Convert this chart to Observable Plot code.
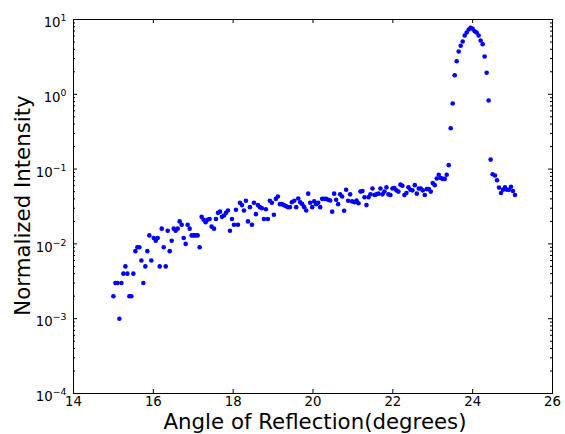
<!DOCTYPE html>
<html>
<head>
<meta charset="utf-8">
<script src="https://cdn.jsdelivr.net/npm/d3@7"></script>
<script src="https://cdn.jsdelivr.net/npm/@observablehq/plot@0.6"></script>
<style>
  html, body { margin: 0; padding: 0; background: white; }
  #chart svg { display: block; }
</style>
</head>
<body>
<div id="chart"></div>
<script>
const angles = [
  15.00, 15.05, 15.10, 15.15, 15.20, 15.25, 15.30, 15.35, 15.40, 15.45,
  15.50, 15.55, 15.60, 15.65, 15.70, 15.75, 15.80, 15.85, 15.90, 15.95,
  16.01, 16.06, 16.11, 16.16, 16.21, 16.26, 16.31, 16.36, 16.41, 16.46,
  16.51, 16.56, 16.61, 16.66, 16.71, 16.76, 16.81, 16.86, 16.91, 16.96,
  17.01, 17.06, 17.11, 17.16, 17.21, 17.26, 17.31, 17.36, 17.41, 17.46,
  17.52, 17.57, 17.62, 17.67, 17.72, 17.77, 17.82, 17.87, 17.92, 17.97,
  18.02, 18.07, 18.12, 18.17, 18.22, 18.27, 18.32, 18.37, 18.42, 18.47,
  18.52, 18.57, 18.62, 18.67, 18.72, 18.77, 18.82, 18.87, 18.92, 18.97,
  19.02, 19.07, 19.12, 19.17, 19.22, 19.27, 19.32, 19.37, 19.42, 19.47,
  19.53, 19.58, 19.63, 19.68, 19.73, 19.78, 19.83, 19.88, 19.93, 19.98,
  20.03, 20.08, 20.13, 20.18, 20.23, 20.28, 20.33, 20.38, 20.43, 20.48,
  20.53, 20.58, 20.63, 20.68, 20.73, 20.78, 20.83, 20.88, 20.93, 20.98,
  21.04, 21.09, 21.14, 21.19, 21.24, 21.29, 21.34, 21.39, 21.44, 21.49,
  21.54, 21.59, 21.64, 21.69, 21.74, 21.79, 21.84, 21.89, 21.94, 21.99,
  22.04, 22.09, 22.14, 22.19, 22.24, 22.29, 22.34, 22.39, 22.44, 22.49,
  22.55, 22.60, 22.65, 22.70, 22.75, 22.80, 22.85, 22.90, 22.95, 23.00,
  23.05, 23.10, 23.15, 23.20, 23.25, 23.30, 23.35, 23.40, 23.45, 23.50,
  23.55, 23.60, 23.65, 23.70, 23.75, 23.80, 23.85, 23.90, 23.95, 24.00,
  24.05, 24.10, 24.15, 24.20, 24.25, 24.30, 24.35, 24.40, 24.45, 24.50,
  24.56, 24.61, 24.66, 24.71, 24.76, 24.81, 24.86, 24.91, 24.96, 25.01,
  25.06
];

// Normalized intensity, one value per angle
const intensity = [
  0.002, 0.003, 0.003, 0.001, 0.003, 0.004, 0.005, 0.004, 0.002, 0.002,
  0.004, 0.008, 0.009, 0.009, 0.006, 0.003, 0.005, 0.008, 0.013, 0.006,
  0.012, 0.011, 0.012, 0.005, 0.016, 0.009, 0.005, 0.015, 0.008, 0.011,
  0.016, 0.015, 0.016, 0.020, 0.018, 0.012, 0.010, 0.018, 0.016, 0.013,
  0.013, 0.013, 0.013, 0.009, 0.023, 0.021, 0.0195, 0.021, 0.0215, 0.017,
  0.016, 0.0215, 0.026, 0.027, 0.023, 0.024, 0.026, 0.028, 0.015, 0.0215,
  0.018, 0.0286, 0.018, 0.0355, 0.033, 0.028, 0.0377, 0.020, 0.031, 0.018,
  0.0355, 0.025, 0.033, 0.031, 0.030, 0.0215, 0.029, 0.0215, 0.0377, 0.0355,
  0.0245, 0.040, 0.043, 0.034, 0.034, 0.033, 0.032, 0.031, 0.031, 0.036,
  0.0377, 0.031, 0.0405, 0.036, 0.034, 0.031, 0.028, 0.047, 0.0355, 0.031,
  0.037, 0.034, 0.0355, 0.031, 0.040, 0.040, 0.040, 0.039, 0.038, 0.027,
  0.047, 0.039, 0.034, 0.046, 0.043, 0.0277, 0.053, 0.0377, 0.046, 0.037,
  0.036, 0.038, 0.035, 0.050, 0.051, 0.042, 0.033, 0.042, 0.046, 0.055,
  0.045, 0.046, 0.047, 0.055, 0.046, 0.050, 0.057, 0.046, 0.045, 0.055,
  0.056, 0.052, 0.050, 0.062, 0.060, 0.045, 0.048, 0.057, 0.053, 0.052,
  0.061, 0.047, 0.055, 0.055, 0.052, 0.045, 0.054, 0.054, 0.050, 0.065,
  0.061, 0.075, 0.084, 0.076, 0.074, 0.074, 0.084, 0.113, 0.352, 0.753,
  1.80, 2.77, 3.73, 4.45, 5.08, 6.11, 6.70, 7.35, 7.74, 7.51,
  6.98, 6.70, 6.11, 5.24, 4.68, 3.20, 1.94, 0.826, 0.134, 0.0855,
  0.082, 0.071, 0.0566, 0.048, 0.053, 0.057, 0.053, 0.053, 0.058, 0.051,
  0.045
];

// Axis ticks and labels
const xTicks = [14, 16, 18, 20, 22, 24, 26];
const yExponents = [-4, -3, -2, -1, 0, 1];
const minorMultipliers = [2, 3, 4, 5, 6, 7, 8, 9];
const xTitle = "Angle of Reflection(degrees)";
const yTitle = "Normalized Intensity";

const data = angles.map((a, i) => ({angle: a, value: intensity[i]}));
const yTicks = yExponents.map(e => Math.pow(10, e));
const yMinor = yExponents.slice(0, -1).flatMap(e => minorMultipliers.map(m => m * Math.pow(10, e)));

const W = 565, H = 434, mL = 73, mR = 13, mT = 19, mB = 41;
const pw = W - mL - mR, ph = H - mT - mB;
const majorLen = 4, minorLen = 2;

const chart = Plot.plot({
  width: W, height: H,
  marginLeft: mL, marginRight: mR, marginTop: mT, marginBottom: mB,
  style: {fontFamily: "'DejaVu Sans', sans-serif", fontSize: "13.3px", color: "black", background: "white"},
  x: {domain: [14, 26]},
  y: {type: "log", domain: [1e-4, 10]},
  marks: [
    Plot.dot(data, {x: "angle", y: "value", r: 2.3, fill: "#0000ff", stroke: null}),
    // inward ticks, all four sides
    Plot.ruleX(xTicks, {x: d => d, insetTop: ph - majorLen, stroke: "black"}),
    Plot.ruleX(xTicks, {x: d => d, insetBottom: ph - majorLen, stroke: "black"}),
    Plot.ruleY(yTicks, {y: d => d, insetRight: pw - majorLen, stroke: "black"}),
    Plot.ruleY(yTicks, {y: d => d, insetLeft: pw - majorLen, stroke: "black"}),
    Plot.ruleY(yMinor, {y: d => d, insetRight: pw - minorLen, stroke: "black"}),
    Plot.ruleY(yMinor, {y: d => d, insetLeft: pw - minorLen, stroke: "black"}),
    Plot.frame({stroke: "black", strokeWidth: 1}),
    Plot.axisX(xTicks, {anchor: "bottom", tickSize: 0, tickPadding: 3, label: null, tickFormat: d => String(d)}),
    Plot.axisY(yTicks, {anchor: "left", tickSize: 0, tickPadding: 7, label: null, dy: 3.5,
      tickFormat: d => { const e = Math.round(Math.log10(d)); return e < 0 ? "\u2212" + (-e) : String(e); }}),
    Plot.text([xTitle], {text: d => d, frameAnchor: "bottom", lineAnchor: "middle", textAnchor: "middle", dy: 29, dx: 2, fontSize: 21.3}),
    Plot.text([yTitle], {text: d => d, frameAnchor: "left", textAnchor: "middle", lineAnchor: "middle", rotate: -90, dx: -50, dy: -1, fontSize: 21.3})
  ]
});

// render y tick labels as 10 with superscript exponent
const svgNS = "http://www.w3.org/2000/svg";
chart.querySelectorAll('g[aria-label="y-axis tick label"] text').forEach(t => {
  const exp = t.textContent;
  t.textContent = "";
  const base = document.createElementNS(svgNS, "tspan");
  base.textContent = "10";
  const sup = document.createElementNS(svgNS, "tspan");
  sup.setAttribute("dy", "-6");
  sup.setAttribute("font-size", "9.3px");
  sup.textContent = exp;
  t.append(base, sup);
});

document.getElementById("chart").append(chart);
</script>
</body>
</html>
